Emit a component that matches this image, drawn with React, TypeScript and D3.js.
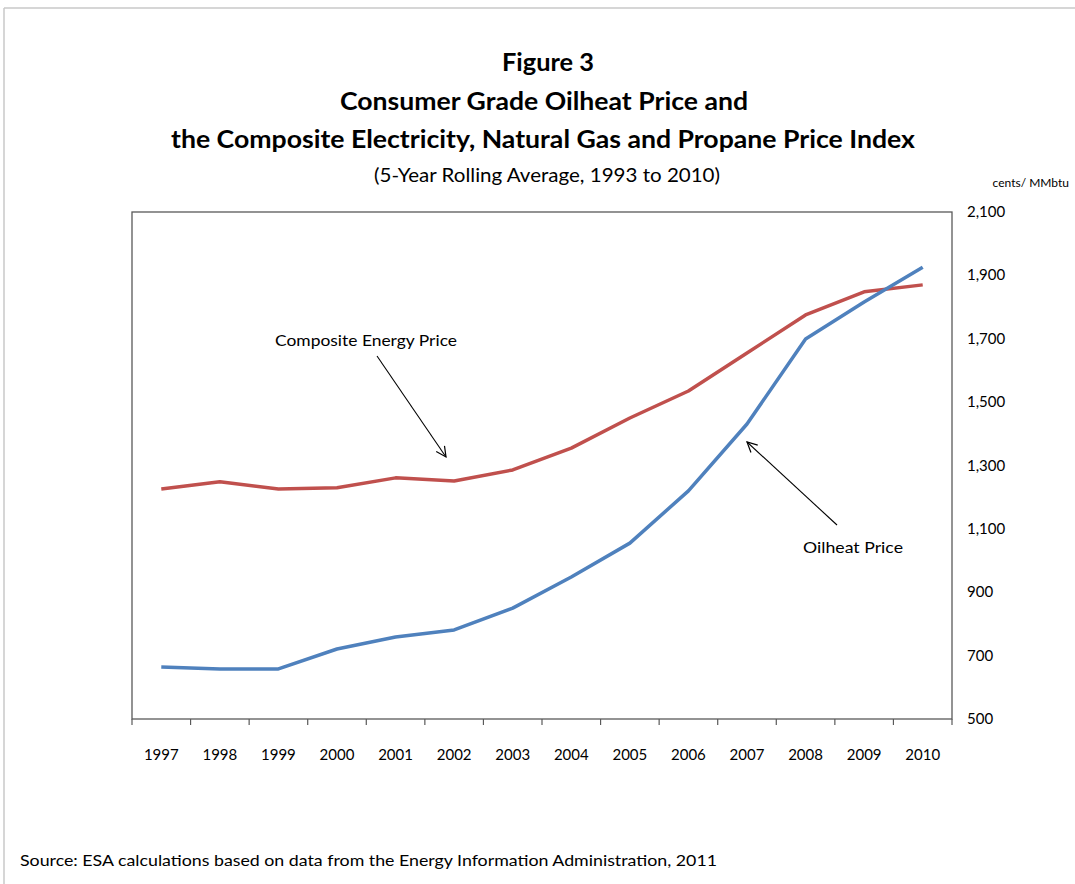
import React from "react";
import * as d3 from "d3";

const years = ["1997","1998","1999","2000","2001","2002","2003","2004","2005","2006","2007","2008","2009","2010"];
const composite = [1226,1249,1226,1230,1261,1251,1286,1355,1450,1535,1655,1775,1848,1870];
const oilheat = [664,658,658,721,759,781,850,948,1055,1220,1431,1699,1816,1926];
const yTicks = [500,700,900,1100,1300,1500,1700,1900,2100];

const FONT = "Lato, 'Open Sans', sans-serif";

export default function App() {
  const W = 1075, H = 884;
  const left = 132, right = 952, top = 212, bottom = 719;
  const x = d3.scaleBand<string>().domain(years).range([left, right]).padding(0);
  const y = d3.scaleLinear().domain([500, 2100]).range([bottom, top]);
  const cx = (yr: string) => (x(yr) as number) + x.bandwidth() / 2;
  const line = d3.line<number>().x((_, i) => cx(years[i])).y(v => y(v));
  const fmt = d3.format(",");
  const tickXs = years.map(yr => x(yr) as number).concat([right]);

  return (
    <svg width={W} height={H} style={{ position: "absolute", left: 0, top: 0, background: "#fff" }}>
      <defs>
        <marker id="arr" viewBox="0 0 12 12" refX="11" refY="6" markerWidth="12" markerHeight="12" markerUnits="userSpaceOnUse" orient="auto">
          <path d="M1,1 L11,6 L1,11" fill="none" stroke="#000" strokeWidth="1.2" />
        </marker>
      </defs>
      <line x1={4} y1={8} x2={W} y2={8} stroke="#c8c8c8" strokeWidth={1.5} />
      <line x1={4} y1={8} x2={4} y2={H} stroke="#c8c8c8" strokeWidth={1.5} />

      <g fontFamily={FONT} textAnchor="middle" fill="#000">
        <text x={548} y={71} fontSize={25} fontWeight="bold" textLength={92} lengthAdjust="spacingAndGlyphs">Figure 3</text>
        <text x={544} y={110} fontSize={25} fontWeight="bold" textLength={408} lengthAdjust="spacingAndGlyphs">Consumer Grade Oilheat Price and</text>
        <text x={543} y={148} fontSize={25} fontWeight="bold" textLength={744} lengthAdjust="spacingAndGlyphs">the Composite Electricity, Natural Gas and Propane Price Index</text>
        <text x={547} y={182} fontSize={19} textLength={346} lengthAdjust="spacingAndGlyphs">(5-Year Rolling Average, 1993 to 2010)</text>
      </g>

      <rect x={left} y={top} width={right - left} height={bottom - top} fill="none" stroke="#595959" strokeWidth={1.3} />
      {tickXs.map((tx, i) => (
        <line key={i} x1={tx} x2={tx} y1={bottom} y2={bottom + 6} stroke="#595959" strokeWidth={1.2} />
      ))}

      <g fontFamily={FONT} fontSize={15} fill="#000">
        {years.map(yr => (
          <text key={yr} x={cx(yr)} y={760} textAnchor="middle">{yr}</text>
        ))}
        {yTicks.map(t => (
          <text key={t} x={967} y={y(t) + 5}>{fmt(t)}</text>
        ))}
      </g>
      <text x={1069} y={187} fontFamily={FONT} fontSize={12} fill="#000" textAnchor="end">cents/ MMbtu</text>

      <path d={line(composite) || ""} fill="none" stroke="#C0504D" strokeWidth={3.5} strokeLinejoin="round" />
      <path d={line(oilheat) || ""} fill="none" stroke="#4F81BD" strokeWidth={3.5} strokeLinejoin="round" />

      <g fontFamily={FONT} fontSize={15} fill="#000">
        <text x={275} y={346} textLength={182} lengthAdjust="spacingAndGlyphs">Composite Energy Price</text>
        <text x={803} y={553} textLength={100} lengthAdjust="spacingAndGlyphs">Oilheat Price</text>
      </g>
      <line x1={377} y1={356} x2={446} y2={457} stroke="#000" strokeWidth={1.1} markerEnd="url(#arr)" />
      <line x1={837} y1={525} x2={747} y2={442} stroke="#000" strokeWidth={1.1} markerEnd="url(#arr)" />

      <text x={20} y={866} fontFamily={FONT} fontSize={15} fill="#000" textLength={697} lengthAdjust="spacingAndGlyphs">
        Source:  ESA calculations based on data from the Energy Information Administration, 2011
      </text>
    </svg>
  );
}
